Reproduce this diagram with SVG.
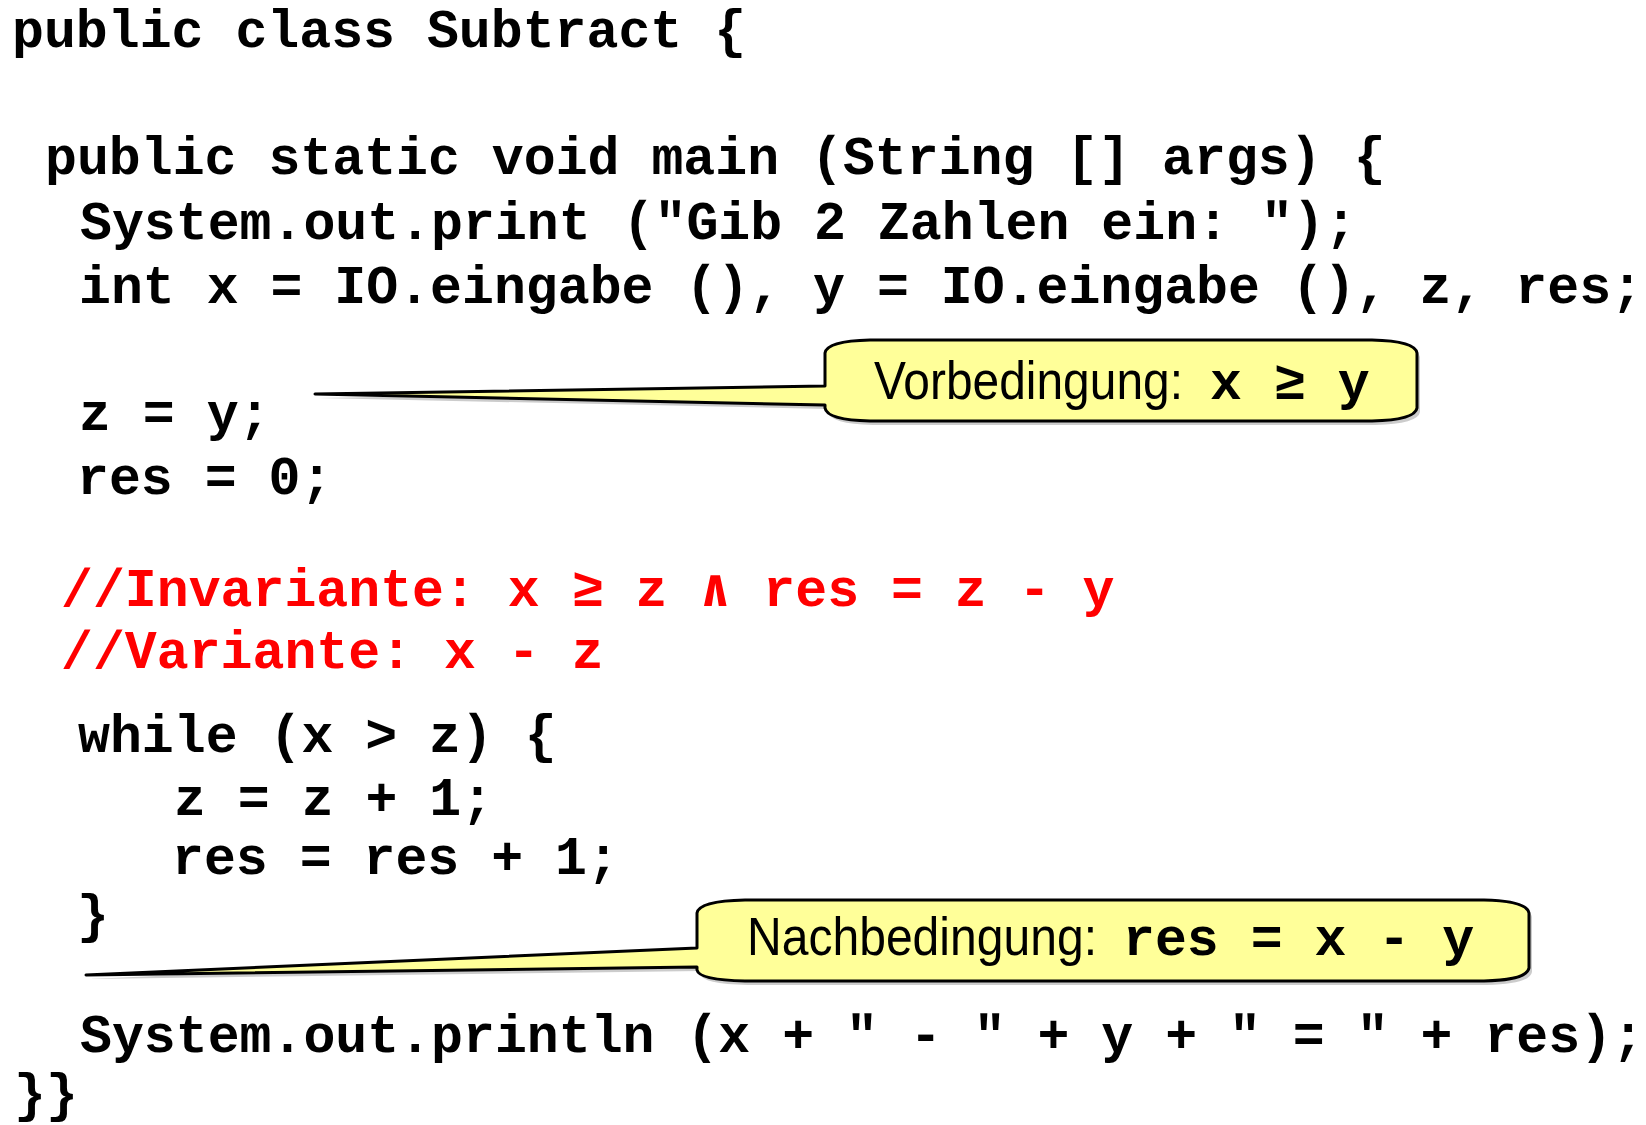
<svg xmlns="http://www.w3.org/2000/svg" width="1646" height="1125" viewBox="0 0 1646 1125">
<style>
.code{font-family:"Liberation Mono","Courier New",monospace;font-weight:bold;font-size:53.2px;fill:#000}
.red{fill:#FF0000}
.sans{font-family:"Liberation Sans",Arial,sans-serif;font-size:54px;fill:#000}
.callout{fill:#FFFF99;stroke:#000;stroke-width:3;stroke-linejoin:round}
.shadow{fill:#9a9a9a;opacity:0.5}
</style>
<rect width="1646" height="1125" fill="#fff"/>
<g id="code">
<text class="code" x="12" y="47">public class Subtract {</text>
<text class="code" x="45" y="174">public static void main (String [] args) {</text>
<text class="code" x="80" y="239">System.out.print ("Gib 2 Zahlen ein: ");</text>
<text class="code" x="79" y="303">int x = IO.eingabe (), y = IO.eingabe (), z, res;</text>
<text class="code" x="79" y="430">z = y;</text>
<text class="code" x="77" y="494">res = 0;</text>
<text class="code red" x="61" y="606">//Invariante: x ≥ z ∧ res = z - y</text>
<text class="code red" x="61" y="668">//Variante: x - z</text>
<text class="code" x="78" y="752">while (x &gt; z) {</text>
<text class="code" x="174" y="815">z = z + 1;</text>
<text class="code" x="172" y="874">res = res + 1;</text>
<text class="code" x="77" y="932">}</text>
<text class="code" x="80" y="1052">System.out.println (x + " - " + y + " = " + res);</text>
<text class="code" x="14" y="1111">}}</text>
</g>
<g id="connectors"></g>
<g id="vorbedingung">
<path class="shadow" transform="translate(3,4)" d="M315,394 L825,386 L825,353 Q827,341 870,340 L1372,340 Q1415,341 1417,353 L1417,408 Q1415,420 1372,421 L870,421 Q827,420 825,408 L825,405 Z"/>
<path class="callout" d="M315,394 L825,386 L825,353 Q827,341 870,340 L1372,340 Q1415,341 1417,353 L1417,408 Q1415,420 1372,421 L870,421 Q827,420 825,408 L825,405 Z"/>
<text class="sans" x="874" y="399" textLength="309" lengthAdjust="spacingAndGlyphs">Vorbedingung:</text>
<text class="code" x="1210" y="399">x ≥ y</text>
</g>
<g id="nachbedingung">
<path class="shadow" transform="translate(3,4)" d="M86,975 L697,948 L697,913 Q699,901 745,900 L1484,900 Q1527,901 1529,913 L1529,968 Q1527,980 1484,981 L745,981 Q699,980 697,970 L697,967 Z"/>
<path class="callout" d="M86,975 L697,948 L697,913 Q699,901 745,900 L1484,900 Q1527,901 1529,913 L1529,968 Q1527,980 1484,981 L745,981 Q699,980 697,970 L697,967 Z"/>
<text class="sans" x="747" y="955" textLength="350" lengthAdjust="spacingAndGlyphs">Nachbedingung:</text>
<text class="code" x="1123" y="955">res = x - y</text>
</g>
</svg>
